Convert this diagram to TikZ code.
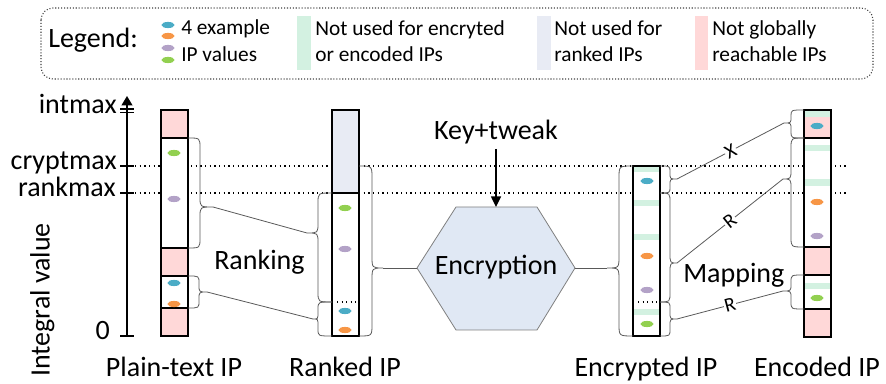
\documentclass[tikz,border=0pt]{standalone}
\usepackage{fontspec}
\setmainfont{Carlito}
\usetikzlibrary{arrows.meta}
\definecolor{pinkf}{HTML}{FFD8D8}
\definecolor{greenb}{HTML}{D3F1E1}
\definecolor{bluegray}{HTML}{E8EBF4}
\definecolor{hexfill}{HTML}{E0E8F4}
\definecolor{hexline}{HTML}{7F7F7F}
\definecolor{linegray}{HTML}{595959}
\definecolor{dblue}{HTML}{4BACC6}
\definecolor{dorange}{HTML}{F79646}
\definecolor{dpurple}{HTML}{B3A2C7}
\definecolor{dgreen}{HTML}{92D050}
\tikzset{
  big/.style={font=\fontsize{21}{25}\selectfont, inner sep=0pt},
  small/.style={font=\fontsize{16}{19}\selectfont, inner sep=0pt},
  lab/.style={font=\fontsize{15}{18}\selectfont, inner sep=0.5pt, fill=white, sloped},
  colborder/.style={draw=black, line width=1.6pt},
  link/.style={draw=linegray, line width=0.6pt},
  dotline/.style={line width=1.1pt, dash pattern=on 1.1pt off 2.4pt},
  legbox/.style={draw=black!75, line width=0.8pt, dash pattern=on 0.8pt off 1.4pt, rounded corners=9pt},
  hexstyle/.style={fill=hexfill, draw=hexline, line width=0.6pt},
}
\newcommand\ipdot[3]{\fill[#1] (#2,-#3) ellipse [x radius=4.9pt, y radius=2.3pt];}
% name, x0, ya, yb, xb, xt, ym, r
\newcommand\ipbrace[8]{%
  \coordinate (#1) at (#6,-#7);
  \draw[link] (#2,-#3) .. controls (#5,-#3) .. (#5,{-#3-#8}) -- (#5,{-#7+#8})
    .. controls (#5,-#7) .. (#1) .. controls (#5,-#7) .. (#5,{-#7-#8})
    -- (#5,{-#4+#8}) .. controls (#5,-#4) .. (#2,-#4);}
\begin{document}
\begin{tikzpicture}[x=0.75pt,y=0.75pt]
\useasboundingbox (0,0) rectangle (886,-384);

% ---------- legend ----------
\draw[legbox] (41,-8) rectangle (873,-79);
\node[big, anchor=base west] (leg) at (48,-48) {Legend:};
\ipdot{dblue}{168}{25}
\ipdot{dorange}{168}{36}
\ipdot{dpurple}{168}{48}
\ipdot{dgreen}{168}{60}
\node[small, anchor=base west] (ex1) at (181,-35) {4 example};
\node[small, anchor=base west] (ex2) at (181,-62) {IP values};
\fill[greenb] (297,-16) rectangle (311,-70);
\node[small, anchor=base west] (g1) at (315,-36) {Not used for encryted};
\node[small, anchor=base west] (g2) at (315,-62) {or encoded IPs};
\fill[bluegray] (537,-16) rectangle (551,-70);
\node[small, anchor=base west] (b1) at (554,-36) {Not used for};
\node[small, anchor=base west] (b2) at (554,-62) {ranked IPs};
\fill[pinkf] (695,-16) rectangle (708,-70);
\node[small, anchor=base west] (p1) at (712,-36) {Not globally};
\node[small, anchor=base west] (p2) at (712,-62) {reachable IPs};

% ---------- axis ----------
\draw[line width=1.2pt, -{Triangle[length=7pt,width=8pt]}] (127,-336) -- (127,-96);
\draw[line width=0.9pt] (120,-109) -- (134,-109);
\draw[line width=0.9pt] (120,-112.5) -- (134,-112.5);
\draw[line width=1.2pt] (120,-166) -- (134,-166);
\draw[line width=1.2pt] (120,-193) -- (134,-193);
\draw[line width=1.2pt] (120,-336) -- (134,-336);
\node[big, anchor=mid east] (imax) at (117,-110) {intmax};
\node[big, anchor=mid east] (cmax) at (117,-166) {cryptmax};
\node[big, anchor=mid east] (rmax) at (116,-193) {rankmax};
\node[big, anchor=mid east] (zero) at (110,-336) {0};
\node[big, rotate=90, anchor=mid] (ival) at (46.5,-300) {Integral value};

% dotted level lines
\draw[dotline] (135,-166) -- (848,-166);
\draw[dotline] (135,-193) -- (848,-193);

% ---------- plain-text column ----------
\fill[white] (161,-110) rectangle (188,-336);
\fill[pinkf] (161,-110) rectangle (188,-138);
\fill[pinkf] (161,-248) rectangle (188,-276);
\fill[pinkf] (161,-308) rectangle (188,-336);
\draw[colborder] (161,-110) rectangle (188,-336);
\draw[colborder] (161,-138) -- (188,-138);
\draw[colborder] (161,-248) -- (188,-248);
\draw[colborder] (161,-276) -- (188,-276);
\draw[colborder] (161,-308) -- (188,-308);
\ipdot{dgreen}{174}{153}
\ipdot{dpurple}{174}{199}
\ipdot{dblue}{174}{283}
\ipdot{dorange}{174}{304}

% ---------- ranked column ----------
\fill[white] (332,-110) rectangle (359,-336);
\fill[bluegray] (332,-110) rectangle (359,-193);
\draw[colborder] (332,-110) rectangle (359,-336);
\draw[colborder] (332,-193) -- (359,-193);
\draw[line width=1pt, dash pattern=on 1pt off 2.4pt] (337,-302) -- (356,-302);
\ipdot{dgreen}{345}{208}
\ipdot{dpurple}{345}{249}
\ipdot{dblue}{345}{311}
\ipdot{dorange}{345}{330}

% ---------- encrypted column ----------
\fill[white] (633,-166) rectangle (660,-336);
\fill[greenb] (633,-167.5) rectangle (660,-172);
\fill[greenb] (633,-200) rectangle (660,-206);
\fill[greenb] (633,-234) rectangle (660,-240);
\fill[greenb] (633,-309) rectangle (660,-315);
\draw[colborder] (633,-166) rectangle (660,-336);
\draw[line width=1pt, dash pattern=on 1pt off 2.4pt] (638,-302) -- (657,-302);
\ipdot{dblue}{647}{181}
\ipdot{dorange}{647}{256}
\ipdot{dpurple}{647}{290}
\ipdot{dgreen}{647}{324}

% ---------- encoded column ----------
\fill[white] (804,-110) rectangle (831,-337);
\fill[pinkf] (804,-110) rectangle (831,-138);
\fill[pinkf] (804,-247) rectangle (831,-275);
\fill[pinkf] (804,-309) rectangle (831,-337);
\fill[greenb] (804,-111) rectangle (831,-117);
\fill[greenb] (804,-145) rectangle (831,-151);
\fill[greenb] (804,-179) rectangle (831,-186);
\fill[greenb] (804,-283) rectangle (831,-289);
\draw[colborder] (804,-110) rectangle (831,-337);
\draw[colborder] (804,-138) -- (831,-138);
\draw[colborder] (804,-247) -- (831,-247);
\draw[colborder] (804,-275) -- (831,-275);
\draw[colborder] (804,-309) -- (831,-309);
\ipdot{dblue}{817}{126}
\ipdot{dorange}{817}{202}
\ipdot{dpurple}{817}{236}
\ipdot{dgreen}{817}{298}

% ---------- braces ----------
\ipbrace{pa}{188}{138}{248}{200}{213}{207}{10}
\ipbrace{pb}{188}{276}{308}{199}{207}{292}{7}
\ipbrace{ra}{332}{193}{302}{318}{307}{233}{10}
\ipbrace{rb}{332}{302}{336}{318}{313}{319}{7}
\ipbrace{rc}{359}{166}{336}{372}{383}{268}{12}
\ipbrace{ea}{633}{166}{336}{619}{607}{268}{12}
\ipbrace{eba}{660}{166}{193}{670}{677}{179}{6}
\ipbrace{ebb}{660}{193}{302}{670}{677}{263}{10}
\ipbrace{ebc}{660}{302}{336}{670}{677}{319}{7}
\ipbrace{da}{804}{110}{138}{791}{784}{123}{6}
\ipbrace{db}{804}{138}{247}{791}{783}{179}{10}
\ipbrace{dc}{804}{275}{309}{791}{783}{291}{7}

% ---------- encryption hexagon ----------
\coordinate (hl) at (417,-268);
\coordinate (htl) at (456,-207);
\coordinate (htop) at (496,-207);
\coordinate (htr) at (537,-207);
\coordinate (hr) at (575,-268);
\coordinate (hbr) at (537,-330);
\coordinate (hbl) at (456,-330);
\path[hexstyle] (hl) -- (htl) -- (htr) -- (hr) -- (hbr) -- (hbl) -- cycle;
\node[big, anchor=base] (enc) at (496,-275) {Encryption};
\node[big, anchor=base] (key) at (496,-140) {Key+tweak};
\draw[line width=1.1pt, -{Triangle[length=8pt,width=7.5pt]}] ([yshift=-3pt]key.south) -- (htop);

% ---------- connectors ----------
\draw[link] (pa) -- (ra);
\draw[link] (pb) -- (rb);
\draw[link] (rc) -- (hl);
\draw[link] (hr) -- (ea);
\draw[link] (eba) -- node[lab] {X} (da);
\draw[link] (ebb) -- node[lab] {R} (db);
\draw[link] (ebc) -- node[lab] {R} (dc);

% ---------- labels ----------
\node[big, anchor=base west] (rank) at (214,-270) {Ranking};
\node[big, anchor=base west] (map) at (683,-283) {Mapping};
\node[big, anchor=base] (lp) at (174,-377) {Plain-text IP};
\node[big, anchor=base] (lr) at (345,-377) {Ranked IP};
\node[big, anchor=base] (le) at (646,-377) {Encrypted IP};
\node[big, anchor=base] (ld) at (817,-377) {Encoded IP};
\end{tikzpicture}
\end{document}
